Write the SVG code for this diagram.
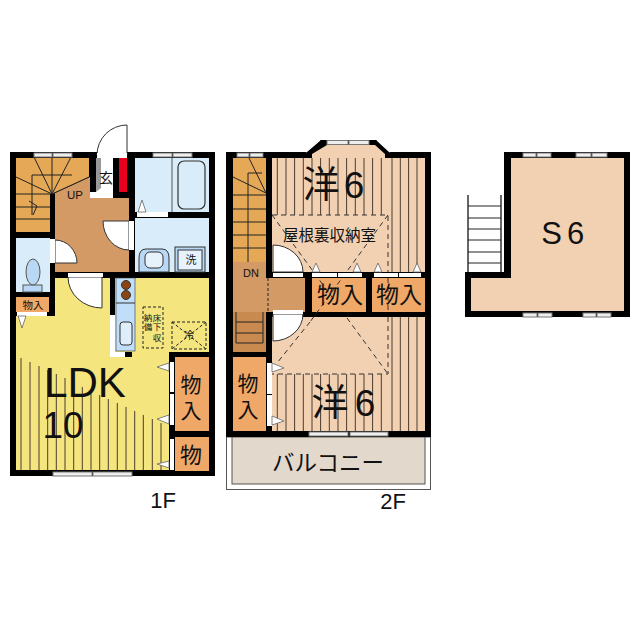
<svg xmlns="http://www.w3.org/2000/svg" width="640" height="640" viewBox="0 0 640 640">
<style>
text{font-family:"Noto Sans CJK JP","Liberation Sans",sans-serif;fill:#111;text-anchor:middle}
.l{font-family:"Liberation Sans","Noto Sans CJK JP",sans-serif}
.w{fill:#000}.s{fill:#f0a868}.fl{fill:#f2d1b3}.bl{fill:#d9ecfa}.st{fill:#e5a857}.hl{fill:#d39a66}
.win{fill:#eee;stroke:#777;stroke-width:1}
.wt{fill:#fff}
.tri{fill:#fff;stroke:#666;stroke-width:.8}
.door{fill:#fff;stroke:#333;stroke-width:1}
.thin{fill:none;stroke:#222;stroke-width:1}
.hat{fill:none;stroke:#4a3c30;stroke-width:1}
.dash{fill:none;stroke:#333;stroke-width:1;stroke-dasharray:5 4}
.sd{fill:none;stroke:#222;stroke-width:1;stroke-dasharray:3 2}
</style>
<rect width="640" height="640" fill="#fff"/>

<g id="floor-1F">
<rect class="w" x="10" y="152" width="205" height="324"/>
<polygon class="st" points="16,158 89,158 89,177 52,194 50,194 50,232 16,232"/>
<polygon class="hl" points="55,193 90,177 90,198 129,198 129,272 55,272"/>
<path class="thin" d="M34 157L52 194M52 157V194M71 157L52 194M16 177L52 194M89 177L52 194M16 194H50M16 207H50M16 219H50M32 175H72M32 175V215M29 201L37 206L33 215"/>
<rect class="wt" x="96" y="158" width="17" height="34"/>
<polygon points="96,158 101,158 101,188 96,192" fill="#999"/>
<rect class="wt" x="90" y="192" width="23" height="6"/>
<rect x="119" y="158" width="8" height="34" fill="#e8001c"/>
<rect class="bl" x="135" y="158" width="74" height="54"/>
<path d="M172 158V212" stroke="#555" fill="none"/>
<rect x="178" y="161" width="27" height="48" rx="6" fill="#d9ecfa" stroke="#333" stroke-width="1.2"/>
<rect class="wt" x="137" y="212" width="31" height="5"/>
<polygon class="tri" points="138,212 142,200 146,212"/>
<rect class="bl" x="135" y="218" width="74" height="54"/>
<path d="M139 272V258Q139 249 146 249H162Q169 249 169 258V272Z" fill="#b8d8f5" stroke="#333"/>
<rect x="145" y="252" width="18" height="16" rx="5" fill="#e6f2fc" stroke="#333"/>
<rect x="175" y="247" width="30" height="25" fill="#b8d8f5" stroke="#333"/>
<rect x="178" y="250" width="24" height="20" fill="#e6f2fc" stroke="#333"/>
<rect class="bl" x="16" y="238" width="34" height="54"/>
<rect x="23" y="285" width="19" height="7" fill="#b8d8f5" stroke="#555"/>
<ellipse cx="33" cy="272" rx="7" ry="13" fill="#b8d8f5" stroke="#555"/>
<polygon fill="#f5e57f" points="55,278 209,278 209,470 16,470 16,316 55,316"/>
<rect class="s" x="16" y="297" width="33" height="15"/>
<rect class="wt" x="17" y="312" width="30" height="4"/>
<polygon class="tri" points="18,316 26,316 22,328"/>
<path class="hat" d="M21 358V470M30 362V470M39 366V470M47.700 370V470M56.300 374V470M65 378V470M73.700 383V470M82.300 387V470M91 391V470M99.700 395V470M108.300 399V470M117.300 403V470M126 407V470M134.700 411V470M143.300 415V470M152.300 419V470M161 423V470"/>
<rect class="w" x="110" y="277" width="5" height="38"/>
<path class="wt" d="M110 315H115V352H125V357H110Z"/>
<rect class="w" x="125" y="352" width="7" height="5"/>
<rect x="116" y="278" width="19" height="73" fill="#c0def7" stroke="#333" stroke-width=".6"/>
<path d="M116 303H135" stroke="#333" fill="none"/>
<circle cx="126" cy="285" r="4.500" fill="#8b4513" stroke="#333"/>
<circle cx="126" cy="295" r="4.500" fill="#8b4513" stroke="#333"/>
<rect x="120" y="322" width="12" height="23" rx="3" fill="#dfeefb" stroke="#333"/>
<rect class="sd" x="143" y="307" width="20" height="41"/>
<rect class="sd" x="172" y="322" width="34" height="27"/>
<path class="sd" d="M172 322L206 349M206 322L172 349"/>
<rect class="w" x="169" y="352" width="46" height="124"/>
<rect class="s" x="175" y="357" width="34" height="74"/>
<rect class="s" x="175" y="437" width="34" height="34"/>
<path class="wt" d="M170 362H174V392H170ZM170 394H174V425H170ZM170 439H174V470H170Z"/>
<polygon class="tri" points="169,363 157,367 169,371"/>
<polygon class="tri" points="169,415 157,419 169,424"/>
<polygon class="tri" points="169,461 157,464 169,468"/>
<path class="door" d="M127 125A30 30 0 0 0 97 155H127Z"/>
<rect class="wt" x="97" y="153" width="30" height="5"/>
<path class="door" d="M103 221H129V250A26 29 0 0 1 103 221Z"/>
<rect class="wt" x="129" y="221" width="5" height="29"/>
<path class="door" d="M55 240A22 23 0 0 1 77 263H55Z"/>
<rect class="wt" x="50" y="239" width="5" height="24"/>
<path class="door" d="M68 277A34 31 0 0 0 102 308V277Z"/>
<rect class="wt" x="68" y="273" width="35" height="4"/>
<rect class="win" x="34" y="153" width="18" height="4"/>
<rect class="win" x="53" y="153" width="19" height="4"/>
<rect class="win" x="153" y="153" width="19" height="4"/>
<rect class="win" x="173" y="153" width="19" height="4"/>
<rect class="win" x="53" y="472" width="39" height="4"/>
<rect class="win" x="93" y="472" width="39" height="4"/>
<text class="l" x="75" y="199" font-size="11.500">UP</text>
<text x="106" y="183" font-size="14">玄</text>
<text x="191" y="264" font-size="11">洗</text>
<text x="33" y="309" font-size="10.500">物入</text>
<text x="148" y="321" font-size="8.500">納</text>
<text x="157" y="321" font-size="8.500">床</text>
<text x="148" y="330" font-size="8.500">備</text>
<text x="157" y="330" font-size="8.500">下</text>
<text x="157" y="341" font-size="8.500">収</text>
<text x="189" y="339" font-size="10">冷</text>
<text x="191" y="392" font-size="21">物</text>
<text x="191" y="418" font-size="21">入</text>
<text x="191" y="463" font-size="22">物</text>
<text class="l" x="85" y="397" font-size="42">LDK</text>
<text class="l" x="63" y="438" font-size="37">10</text>
<text class="l" x="163" y="508" font-size="22">1F</text>
</g>

<g id="floor-2F">
<rect x="226.500" y="437" width="204" height="52.500" fill="#fff" stroke="#555"/>
<rect x="232" y="437" width="193" height="47" fill="#e3d8cc" stroke="#555"/>
<polygon class="w" points="306,152 320,140 377,140 390,152"/>
<rect class="w" x="226" y="152" width="205" height="285"/>
<polygon class="fl" points="312,158 312,154 327,145 375,145 385,154 385,158"/>
<path d="M306 152L320 140M390 152L377 140" stroke="#fff" stroke-width="1.500" fill="none"/>
<rect class="fl" x="272" y="158" width="153" height="114"/>
<rect class="fl" x="272" y="317" width="153" height="114"/>
<rect class="st" x="233" y="158" width="33" height="104"/>
<path class="thin" d="M249 158L266 193M233 177L266 193M248 173H262M248 173V262M233 195H266M233 209H266M233 222H266M233 235H266M233 248H266"/>
<rect class="hl" x="233" y="262" width="33" height="50"/>
<rect class="hl" x="233" y="278" width="72" height="34"/>
<rect x="233" y="312" width="33" height="40" fill="#c98a50"/>
<path class="thin" d="M236 312V343M263 312V343M236 322H263M236 333H263M236 343H263"/>
<path class="sd" d="M268 278V312"/>
<path class="hat" d="M277.300 158V215M286 158V215M294.600 158V215M303.300 158V215M312 158V215M320.600 158V215M329.300 158V215M338 158V215M346.600 158V215M355.300 158V215M364 158V215M372.600 158V215M381.300 158V215M392 158V272M400.300 158V272M408.600 158V272M417 158V272"/>
<path class="hat" d="M277.300 374V431M286 374V431M294.600 374V431M303.300 374V431M312 374V431M320.600 374V431M329.300 374V431M338 374V431M346.600 374V431M355.300 374V431M364 374V431M372.600 374V431M381.300 374V431M392 317V431M400.300 317V431M408.600 317V431M417 317V431"/>
<rect class="w" x="305" y="272" width="120" height="6"/>
<rect class="w" x="305" y="272" width="7" height="45"/>
<rect class="w" x="366" y="272" width="6" height="45"/>
<rect class="w" x="266" y="312" width="165" height="5"/>
<rect class="w" x="232" y="352" width="40" height="5"/>
<rect class="w" x="266" y="317" width="6" height="114"/>
<rect class="s" x="312" y="278" width="54" height="34"/>
<rect class="s" x="372" y="278" width="53" height="34"/>
<rect class="s" x="233" y="357" width="33" height="74"/>
<path class="dash" d="M272 215H388V272M388 278V312M388 317V374H272M272 215L337 304M347 318L388 374M388 215L310 322M310 322L277 363"/>
<path class="door" d="M273 245A30 27 0 0 1 303 272H273Z"/>
<rect class="wt" x="273" y="273" width="30" height="4"/>
<path class="door" d="M303 314A30 27 0 0 1 273 341V314Z"/>
<rect class="wt" x="273" y="310" width="30" height="4"/>
<path class="wt" d="M312 273H337V277H312ZM338 273H362V277H338ZM374 273H398V277H374ZM399 273H421V277H399Z"/>
<polygon class="tri" points="312,272 316,263 320,272"/>
<polygon class="tri" points="353,272 357,263 361,272"/>
<polygon class="tri" points="374,272 378,263 382,272"/>
<polygon class="tri" points="413,272 417,263 421,272"/>
<path class="wt" d="M267 363H272V394H267ZM267 395H272V426H267Z"/>
<polygon class="tri" points="272,363 284,368 272,372"/>
<polygon class="tri" points="272,416 284,421 272,425"/>
<rect class="win" x="237" y="153" width="12" height="4"/>
<rect class="win" x="250" y="153" width="13" height="4"/>
<rect class="win" x="327" y="140.500" width="21" height="4"/>
<rect class="win" x="349" y="140.500" width="20" height="4"/>
<rect class="win" x="309" y="432" width="39" height="4"/>
<rect class="win" x="350" y="432" width="38" height="4"/>
<text x="321" y="198" font-size="37">洋</text>
<text class="l" x="354" y="198" font-size="37">6</text>
<text x="330" y="416" font-size="37">洋</text>
<text class="l" x="365" y="416" font-size="37">6</text>
<text x="329.500" y="241" font-size="15.500">屋根裏収納室</text>
<text class="l" x="251" y="277" font-size="11">DN</text>
<text x="340" y="303" font-size="23">物入</text>
<text x="399" y="303" font-size="23">物入</text>
<text x="248" y="391" font-size="21">物</text>
<text x="248" y="417" font-size="21">入</text>
<text x="328" y="471" font-size="22.500">バルコニー</text>
<text class="l" x="393" y="509" font-size="22">2F</text>
</g>

<g id="floor-S">
<path d="M468 195V272M501 195V272" stroke="#666" stroke-width="2" fill="none"/>
<path d="M468 206H501M468 218H501M468 229H501M468 240H501M468 252H501M468 263H501" stroke="#222" fill="none"/>
<polygon class="w" points="504,152 630,152 630,317 465,317 465,272 504,272"/>
<polygon class="fl" points="511,158 624,158 624,311 471,311 471,278 511,278"/>
<rect class="win" x="523" y="153" width="13" height="4"/>
<rect class="win" x="537" y="153" width="14" height="4"/>
<rect class="win" x="576" y="153" width="15" height="4"/>
<rect class="win" x="592" y="153" width="15" height="4"/>
<rect class="win" x="523" y="313" width="14" height="4"/>
<rect class="win" x="538" y="313" width="14" height="4"/>
<rect class="win" x="583" y="313" width="13" height="4"/>
<rect class="win" x="597" y="313" width="14" height="4"/>
<text class="l" x="551.500" y="244" font-size="31">S</text>
<text class="l" x="575.500" y="244" font-size="31">6</text>
</g>
</svg>
